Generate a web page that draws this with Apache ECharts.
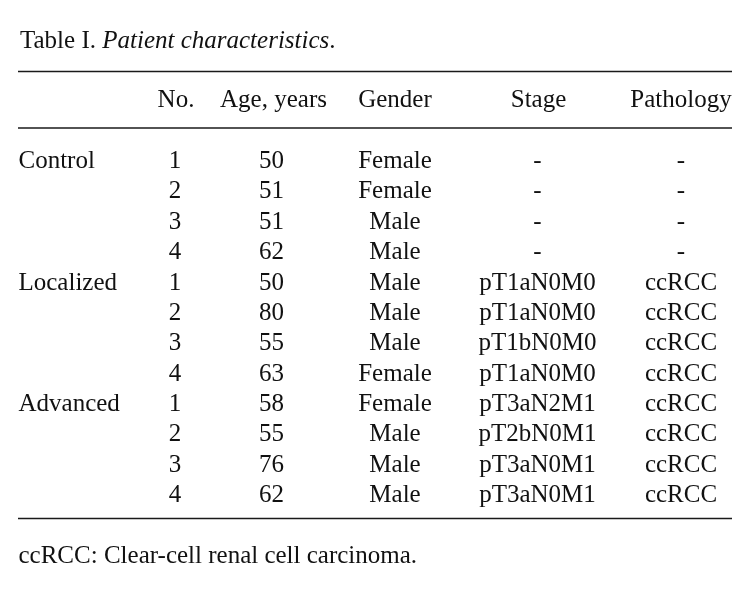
<!DOCTYPE html>
<html><head><meta charset="utf-8">
<script src="https://cdn.jsdelivr.net/npm/echarts@6/dist/echarts.min.js"></script>
<style>html,body{margin:0;padding:0;background:#fff}#c{width:755px;height:592px}</style>
</head><body><div id="c"></div>
<script>
// ---- data ----
const headers = ['', 'No.', 'Age, years', 'Gender', 'Stage', 'Pathology'];
const groups = ['Control', '', '', '', 'Localized', '', '', '', 'Advanced', '', '', ''];
const no = [1, 2, 3, 4, 1, 2, 3, 4, 1, 2, 3, 4];
const age = [50, 51, 51, 62, 50, 80, 55, 63, 58, 55, 76, 62];
const gender = ['Female', 'Female', 'Male', 'Male', 'Male', 'Male', 'Male', 'Female', 'Female', 'Male', 'Male', 'Male'];
const stage = ['-', '-', '-', '-', 'pT1aN0M0', 'pT1aN0M0', 'pT1bN0M0', 'pT1aN0M0', 'pT3aN2M1', 'pT2bN0M1', 'pT3aN0M1', 'pT3aN0M1'];
const pathology = ['-', '-', '-', '-', 'ccRCC', 'ccRCC', 'ccRCC', 'ccRCC', 'ccRCC', 'ccRCC', 'ccRCC', 'ccRCC'];
const titleLabel = 'Table I.';
const titleItalic = 'Patient characteristics';
const footnote = 'ccRCC: Clear-cell renal cell carcinoma.';

// ---- layout (not data) ----
const FONT = 'Liberation Serif';
const FS = 25;
const INK = '#111';
const headerX = [18.5, 176, 273.5, 395, 538.5, 681];
const cellX = [18.5, 175, 271.5, 395, 537.5, 681];
const HEADER_ROW = -2;

const columns = [groups, no, age, gender, stage, pathology];

const chart = echarts.init(document.getElementById('c'), null, {renderer: 'canvas'});

function labelStyle(align) {
  return {show: true, position: 'inside', align: align, verticalAlign: 'middle',
    fontFamily: FONT, fontSize: FS, color: INK, opacity: 1,
    formatter: p => String(p.data[2])};
}

const series = [];
series.push({
  type: 'scatter', symbolSize: 0, silent: true, itemStyle: {opacity: 1},
  data: headers.map((h, c) => [headerX[c], HEADER_ROW, h]).filter(d => d[2] !== ''),
  label: labelStyle('center')
});
columns.forEach((col, c) => {
  series.push({
    type: 'scatter', symbolSize: 0, silent: true, itemStyle: {opacity: 1},
    data: col.map((v, r) => [cellX[c], r, v]).filter(d => d[2] !== ''),
    label: labelStyle(c === 0 ? 'left' : 'center')
  });
});

const L = 18, R = 732;
function rule(y) {
  return {type: 'line', shape: {x1: L, y1: y, x2: R, y2: y}, style: {stroke: '#1a1a1a', lineWidth: 1.6}};
}

chart.setOption({
  animation: false,
  backgroundColor: '#fff',
  title: {
    text: '{a|' + titleLabel + ' }{b|' + titleItalic + '}{a|.}',
    left: 15, top: 24,
    textStyle: {rich: {
      a: {fontFamily: FONT, fontSize: FS, color: INK, fontWeight: 'normal'},
      b: {fontFamily: FONT, fontSize: FS, color: INK, fontStyle: 'italic', fontWeight: 'normal'}
    }}
  },
  grid: {left: 0, width: 755, top: 85.6, height: 425.09},
  xAxis: {type: 'value', min: 0, max: 755, show: false},
  yAxis: {type: 'value', min: -2.5, max: 11.5, inverse: true, show: false},
  graphic: [
    rule(71.5), rule(128), rule(518.5),
    {type: 'text', left: 18.5, top: 544, style: {text: footnote, font: FS + 'px "' + FONT + '"', fill: INK}}
  ],
  series: series
});
</script></body></html>
